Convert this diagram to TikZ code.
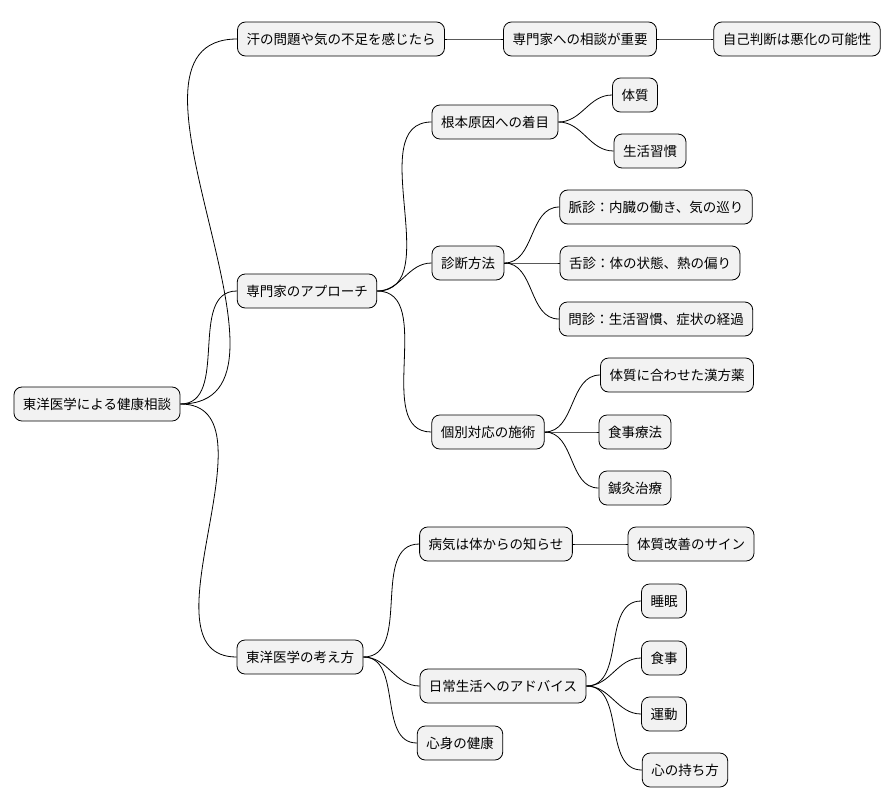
\documentclass[tikz,border=0pt]{standalone}
\usepackage{fontspec}
\setmainfont{Noto Sans CJK JP}
\begin{document}
\begin{tikzpicture}[x=1pt,y=-1pt,
 box/.style={draw=black,fill=black!5,rounded corners=8pt,minimum height=34pt,inner xsep=9pt,font=\fontsize{13.5}{15}\selectfont,line width=0.8pt},
 ln/.style={draw=black,line width=0.8pt}]
\useasboundingbox (0,0) rectangle (894,809);
\node[box] (r) at (97,404) {東洋医学による健康相談};
\node[box] (a) at (341,39) {汗の問題や気の不足を感じたら};
\node[box] (a1) at (580,39) {専門家への相談が重要};
\node[box] (a2) at (797,39) {自己判断は悪化の可能性};
\node[box] (b) at (307,291) {専門家のアプローチ};
\node[box] (b1) at (495,122) {根本原因への着目};
\node[box] (b11) at (635,95) {体質};
\node[box] (b12) at (650,151) {生活習慣};
\node[box] (b2) at (468,263) {診断方法};
\node[box] (b21) at (656,207) {脈診：内臓の働き、気の巡り};
\node[box] (b22) at (650,263) {舌診：体の状態、熱の偏り};
\node[box] (b23) at (656,319) {問診：生活習慣、症状の経過};
\node[box] (b3) at (488,432) {個別対応の施術};
\node[box] (b31) at (677,375) {体質に合わせた漢方薬};
\node[box] (b32) at (635,432) {食事療法};
\node[box] (b33) at (635,488) {鍼灸治療};
\node[box] (c) at (300,657) {東洋医学の考え方};
\node[box] (c1) at (496,544) {病気は体からの知らせ};
\node[box] (c11) at (691,544) {体質改善のサイン};
\node[box] (c2) at (503,686) {日常生活へのアドバイス};
\node[box] (c21) at (664,601) {睡眠};
\node[box] (c22) at (664,658) {食事};
\node[box] (c23) at (664,714) {運動};
\node[box] (c24) at (685,770) {心の持ち方};
\node[box] (c3) at (460,743) {心身の健康};
\foreach \p/\c in {r/a,r/b,r/c,a/a1,a1/a2,b/b1,b/b2,b/b3,b1/b11,b1/b12,b2/b21,b2/b22,b2/b23,b3/b31,b3/b32,b3/b33,c/c1,c/c2,c/c3,c1/c11,c2/c21,c2/c22,c2/c23,c2/c24}
  \draw[ln] (\p.east) to[out=0,in=180] (\c.west);
\end{tikzpicture}
\end{document}
